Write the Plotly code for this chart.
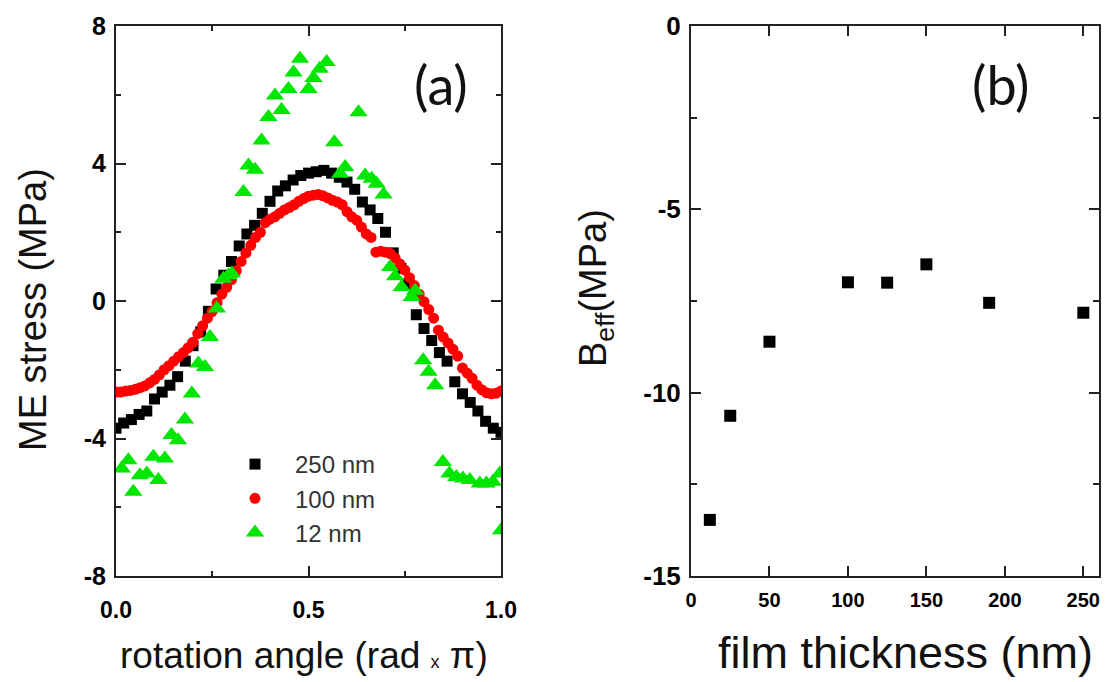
import plotly.graph_objects as go

# ---------------- Panel (a): ME stress vs rotation angle ----------------
angle_250 = [0.00, 0.02, 0.04, 0.06, 0.08, 0.10, 0.12, 0.14, 0.16, 0.18,
             0.20, 0.22, 0.24, 0.26, 0.28, 0.30, 0.32, 0.34, 0.36, 0.38,
             0.40, 0.42, 0.44, 0.46, 0.48, 0.50, 0.52, 0.54, 0.56, 0.58,
             0.60, 0.62, 0.64, 0.66, 0.68, 0.70, 0.72, 0.74, 0.76, 0.78,
             0.80, 0.82, 0.84, 0.86, 0.88, 0.90, 0.92, 0.94, 0.96, 0.98, 1.00]
stress_250 = [-3.70, -3.55, -3.45, -3.30, -3.20, -2.85, -2.65, -2.45, -2.20, -1.75,
              -1.30, -0.90, -0.30, 0.35, 0.75, 1.15, 1.60, 1.95, 2.20, 2.55,
              2.90, 3.20, 3.35, 3.52, 3.65, 3.72, 3.76, 3.80, 3.72, 3.60,
              3.46, 3.25, 2.88, 2.65, 2.40, 2.00, 1.40, 0.95, 0.50, -0.40,
              -0.80, -1.15, -1.50, -1.75, -2.35, -2.70, -2.95, -3.20, -3.50, -3.70, -3.82]

angle_100 = [0.0000, 0.0125, 0.0250, 0.0375, 0.0500, 0.0625, 0.0750, 0.0875, 0.1000, 0.1125,
             0.1250, 0.1375, 0.1500, 0.1625, 0.1750, 0.1875, 0.2000, 0.2125, 0.2250, 0.2375,
             0.2500, 0.2625, 0.2750, 0.2875, 0.3000, 0.3125, 0.3250, 0.3375, 0.3500, 0.3625,
             0.3750, 0.3875, 0.4000, 0.4125, 0.4250, 0.4375, 0.4500, 0.4625, 0.4750, 0.4875,
             0.5000, 0.5125, 0.5250, 0.5375, 0.5500, 0.5625, 0.5750, 0.5875, 0.6000, 0.6125,
             0.6250, 0.6375, 0.6500, 0.6625, 0.6750, 0.6875, 0.7000, 0.7125, 0.7250, 0.7375,
             0.7500, 0.7625, 0.7750, 0.7875, 0.8000, 0.8125, 0.8250, 0.8375, 0.8500, 0.8625,
             0.8750, 0.8875, 0.9000, 0.9125, 0.9250, 0.9375, 0.9500, 0.9625, 0.9750, 0.9875, 1.0000]
stress_100 = [-2.65, -2.65, -2.62, -2.60, -2.57, -2.52, -2.47, -2.38, -2.28, -2.15,
              -2.00, -1.88, -1.75, -1.62, -1.50, -1.36, -1.20, -0.95, -0.72, -0.50,
              -0.30, -0.05, 0.20, 0.40, 0.62, 0.88, 1.15, 1.40, 1.62, 1.85,
              2.00, 2.28, 2.38, 2.45, 2.55, 2.65, 2.72, 2.80, 2.90, 2.98,
              3.05, 3.08, 3.10, 3.06, 3.00, 2.93, 2.88, 2.80, 2.60, 2.45,
              2.35, 2.15, 1.95, 1.85, 1.42, 1.45, 1.42, 1.38, 1.25, 1.08,
              0.90, 0.68, 0.45, 0.20, -0.02, -0.25, -0.50, -0.85, -1.05, -1.22,
              -1.40, -1.60, -1.95, -2.10, -2.25, -2.45, -2.58, -2.67, -2.70, -2.68, -2.62]

angle_12 = [0.015, 0.032, 0.045, 0.062, 0.080, 0.097, 0.110, 0.127, 0.144, 0.161,
            0.179, 0.197, 0.214, 0.231, 0.244, 0.262, 0.279, 0.292, 0.301, 0.331,
            0.344, 0.361, 0.378, 0.396, 0.413, 0.430, 0.448, 0.461, 0.478, 0.500,
            0.513, 0.529, 0.547, 0.567, 0.582, 0.595, 0.630, 0.647, 0.664, 0.677,
            0.695, 0.712, 0.725, 0.742, 0.768, 0.777, 0.798, 0.812, 0.829, 0.849,
            0.866, 0.884, 0.901, 0.919, 0.945, 0.962, 0.979, 0.997, 1.000]
stress_12 = [-4.87, -4.63, -5.55, -5.07, -5.02, -4.53, -5.21, -4.58, -3.90, -4.05,
             -3.45, -2.69, -1.82, -1.92, -1.05, -0.22, 0.65, 0.75, 0.80, 3.17,
             3.94, 3.82, 4.67, 5.35, 5.98, 5.56, 6.17, 6.65, 7.05, 6.17,
             6.49, 6.76, 6.95, 4.62, 3.70, 3.90, 5.49, 3.65, 3.56, 3.41,
             3.10, 0.99, 0.72, 0.41, 0.12, 0.30, -1.72, -2.06, -2.45, -4.68,
             -5.02, -5.12, -5.16, -5.21, -5.31, -5.31, -5.26, -5.02, -6.67]

# ---------------- Panel (b): B_eff vs film thickness ----------------
thickness_nm = [12, 25, 50, 100, 125, 150, 190, 250]
beff_mpa = [-13.47, -10.63, -8.61, -6.99, -7.00, -6.50, -7.55, -7.82]

# tick labels
a_x_ticks = [0.0, 0.5, 1.0]
a_x_labels = ["0.0", "0.5", "1.0"]
a_y_ticks = [-8, -4, 0, 4, 8]
a_y_labels = ["-8", "-4", "0", "4", "8"]
b_x_ticks = [0, 50, 100, 150, 200, 250]
b_x_labels = ["0", "50", "100", "150", "200", "250"]
b_y_ticks = [-15, -10, -5, 0]
b_y_labels = ["-15", "-10", "-5", "0"]

W, H = 1116, 682
FONT = "Liberation Sans, Arial, sans-serif"
LINE = "#222222"

fig = go.Figure()
nb = "\u00a0"
fig.add_trace(go.Scatter(x=angle_250, y=stress_250, mode="markers", name=nb * 3 + "250 nm",
                         marker=dict(symbol="square", size=11, color="black"),
                         xaxis="x", yaxis="y"))
fig.add_trace(go.Scatter(x=angle_100, y=stress_100, mode="markers", name=nb * 3 + "100 nm",
                         marker=dict(symbol="circle", size=11, color="#ff0000"),
                         xaxis="x", yaxis="y"))
fig.add_trace(go.Scatter(x=angle_12, y=stress_12, mode="markers", name=nb * 3 + "12 nm",
                         marker=dict(symbol="triangle-up", size=16, color="#00e600"),
                         xaxis="x", yaxis="y"))
fig.add_trace(go.Scatter(x=thickness_nm, y=beff_mpa, mode="markers", showlegend=False,
                         marker=dict(symbol="square", size=12, color="black"),
                         xaxis="x2", yaxis="y2"))

ydom = [(H - 576) / H, (H - 26) / H]

def axis_common():
    return dict(showline=True, linewidth=2, linecolor=LINE, mirror="ticks",
                ticks="inside", tickwidth=1.6, tickcolor=LINE, showgrid=False,
                zeroline=False, automargin=False)

fig.update_layout(
    width=W, height=H, autosize=False,
    margin=dict(l=0, r=0, t=0, b=0, pad=0, autoexpand=False),
    paper_bgcolor="white", plot_bgcolor="white",
    font=dict(family=FONT, color="black"),
    xaxis=dict(domain=[116 / W, 501 / W], range=[0, 1], anchor="y",
               tickvals=a_x_ticks, ticktext=a_x_labels, ticklen=10,
               minor=dict(dtick=0.25, tick0=0, ticklen=5, ticks="inside", tickcolor=LINE, tickwidth=1.6),
               tickfont=dict(size=23, family=FONT, weight="bold"),
               ticklabelstandoff=12,
               **axis_common()),
    yaxis=dict(domain=ydom, range=[-8, 8], anchor="x",
               tickvals=a_y_ticks, ticktext=a_y_labels, ticklen=10,
               minor=dict(dtick=2, tick0=0, ticklen=5, ticks="inside", tickcolor=LINE, tickwidth=1.6),
               tickfont=dict(size=25, family=FONT, weight="bold"),
               ticklabelstandoff=3,
               **axis_common()),
    xaxis2=dict(domain=[691 / W, 1099 / W], range=[0, 260], anchor="y2",
                tickvals=b_x_ticks, ticktext=b_x_labels, ticklen=10,
                tickfont=dict(size=20, family=FONT, weight="bold"),
                ticklabelstandoff=5,
                **axis_common()),
    yaxis2=dict(domain=ydom, range=[-15, 0], anchor="x2",
                tickvals=b_y_ticks, ticktext=b_y_labels, ticklen=10,
                minor=dict(dtick=2.5, tick0=0, ticklen=6, ticks="inside", tickcolor=LINE, tickwidth=1.6),
                tickfont=dict(size=26, family=FONT, weight="bold"),
                ticklabelstandoff=3,
                **axis_common()),
    legend=dict(x=235 / W, y=1 - 442 / H, xanchor="left", yanchor="top",
                bgcolor="rgba(0,0,0,0)", borderwidth=0,
                font=dict(size=24, family=FONT, color="#333333"),
                tracegroupgap=0),
    showlegend=True,
)

annotations = [
    dict(text="ME stress (MPa)", x=33 / W, y=1 - 310 / H, textangle=-90,
         font=dict(size=38, family=FONT, color="#111111")),
    dict(text="rotation angle (rad <span style='font-size:18px'>x</span> π)",
         x=304 / W, y=1 - 655 / H, font=dict(size=37, family=FONT, color="#111111")),
    dict(text="film thickness (nm)", x=905 / W, y=1 - 652 / H,
         font=dict(size=45, family=FONT, color="#111111")),
    dict(text="B<sub>eff</sub>(MPa)", x=596 / W, y=1 - 288 / H, textangle=-90,
         font=dict(size=38, family=FONT, color="#111111")),
    dict(text="(a)", x=441 / W, y=1 - 84 / H, font=dict(size=54, family="Lato, Noto Sans, sans-serif", color="#111111")),
    dict(text="(b)", x=1001 / W, y=1 - 84 / H, font=dict(size=54, family="Lato, Noto Sans, sans-serif", color="#111111")),
]
for a in annotations:
    a.update(xref="paper", yref="paper", showarrow=False, xanchor="center", yanchor="middle")
fig.update_layout(annotations=annotations)

fig.write_html("out.html", config={"displayModeBar": False},
               post_script="document.body.style.margin='0';document.body.style.padding='0';document.body.style.overflow='hidden';")
